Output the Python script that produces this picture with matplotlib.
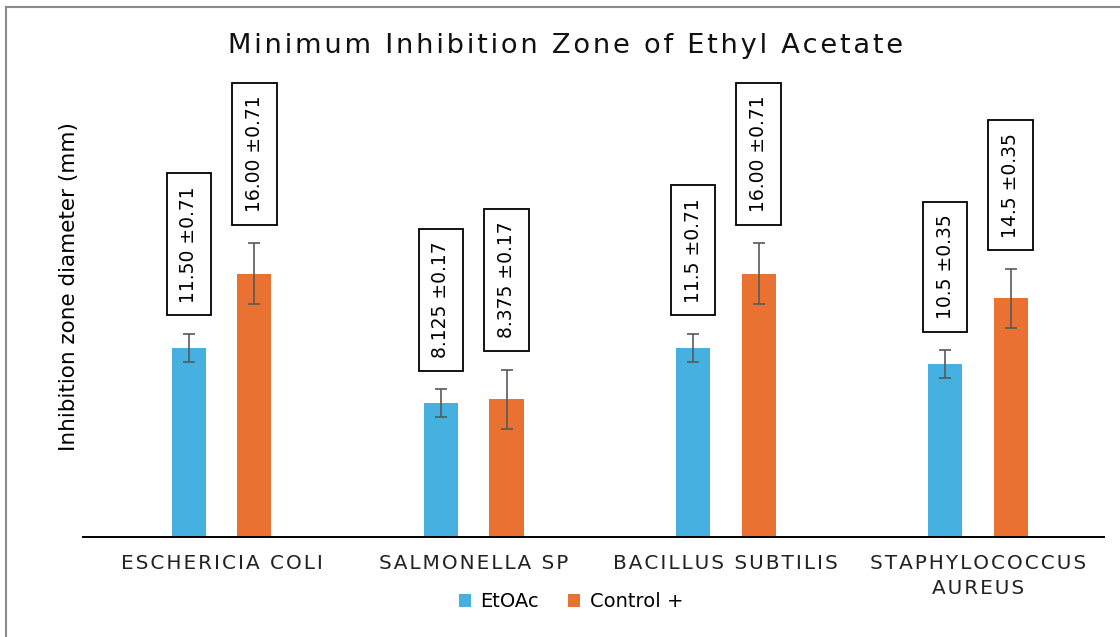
import matplotlib.pyplot as plt
from matplotlib.lines import Line2D
import numpy as np

# data
categories = ["ESCHERICIA COLI", "SALMONELLA SP", "BACILLUS SUBTILIS", "STAPHYLOCOCCUS\nAUREUS"]
etoac = [11.5, 8.125, 11.5, 10.5]
control = [16.0, 8.375, 16.0, 14.5]
etoac_err = [0.85, 0.85, 0.85, 0.85]
control_err = [1.85, 1.8, 1.85, 1.8]
etoac_labels = ["11.50 \u00b10.71", "8.125 \u00b10.17", "11.5 \u00b10.71", "10.5 \u00b10.35"]
control_labels = ["16.00 \u00b10.71", "8.375 \u00b10.17", "16.00 \u00b10.71", "14.5 \u00b10.35"]

blue = "#46B1E1"
orange = "#E97132"


def spaced(s):
    # mimic the letter spacing of the original text
    return "\n".join("\u200a".join(line) for line in s.split("\n"))


fig = plt.figure(figsize=(11.2, 6.37), dpi=100)
ax = fig.add_axes([0.0741, 0.157, 0.9116, 0.785])

x = np.arange(len(categories))
w = 0.135
off = 0.13

ax.bar(x - off, etoac, w, color=blue, label="EtOAc", zorder=2)
ax.bar(x + off, control, w, color=orange, label="Control +", zorder=2)
ax.errorbar(x - off, etoac, yerr=etoac_err, fmt="none", ecolor="#595959",
            elinewidth=1.2, capsize=4, capthick=1.2, zorder=3)
ax.errorbar(x + off, control, yerr=control_err, fmt="none", ecolor="#595959",
            elinewidth=1.2, capsize=4, capthick=1.2, zorder=3)

# rotated value boxes above each bar
box = dict(boxstyle="square,pad=0.68", facecolor="white", edgecolor="black", linewidth=1.3)
for i in range(len(categories)):
    ax.text(x[i] - off, etoac[i] + etoac_err[i] + 1.9, etoac_labels[i], rotation=90,
            ha="center", va="bottom", fontsize=13.5, bbox=box, zorder=4)
    ax.text(x[i] + off, control[i] + control_err[i] + 1.9, control_labels[i], rotation=90,
            ha="center", va="bottom", fontsize=13.5, bbox=box, zorder=4)

ax.set_xlim(-0.55, 3.5)
ax.set_ylim(0, 30.4)
ax.set_xticks(x)
ax.set_xticklabels([spaced(c) for c in categories], fontsize=14.4, color="#222222",
                   linespacing=1.4)
ax.tick_params(axis="x", length=0, pad=12)
ax.set_yticks([])
for s in ["top", "right", "left"]:
    ax.spines[s].set_visible(False)
ax.spines["bottom"].set_linewidth(1.4)
ax.set_ylabel("Inhibition zone diameter (mm)", fontsize=15.5, labelpad=3)

fig.text(0.505, 0.928, spaced("Minimum Inhibition Zone of Ethyl Acetate"), ha="center",
         va="center", fontsize=19.6, color="#111111")

fig.legend(loc="center", bbox_to_anchor=(0.51, 0.055), ncol=2, frameon=False,
           fontsize=14, handlelength=0.6, handleheight=0.6, handletextpad=0.5,
           columnspacing=1.5)

# outer frame (top and left edges visible in the reference)
fig.add_artist(Line2D([0.0054, 1.0], [1 - 7 / 637, 1 - 7 / 637], color="#8a8a8a", lw=1.5))
fig.add_artist(Line2D([0.0054, 0.0054], [0.0, 1 - 7 / 637], color="#8a8a8a", lw=1.5))

fig.savefig("out.png", dpi=100)
